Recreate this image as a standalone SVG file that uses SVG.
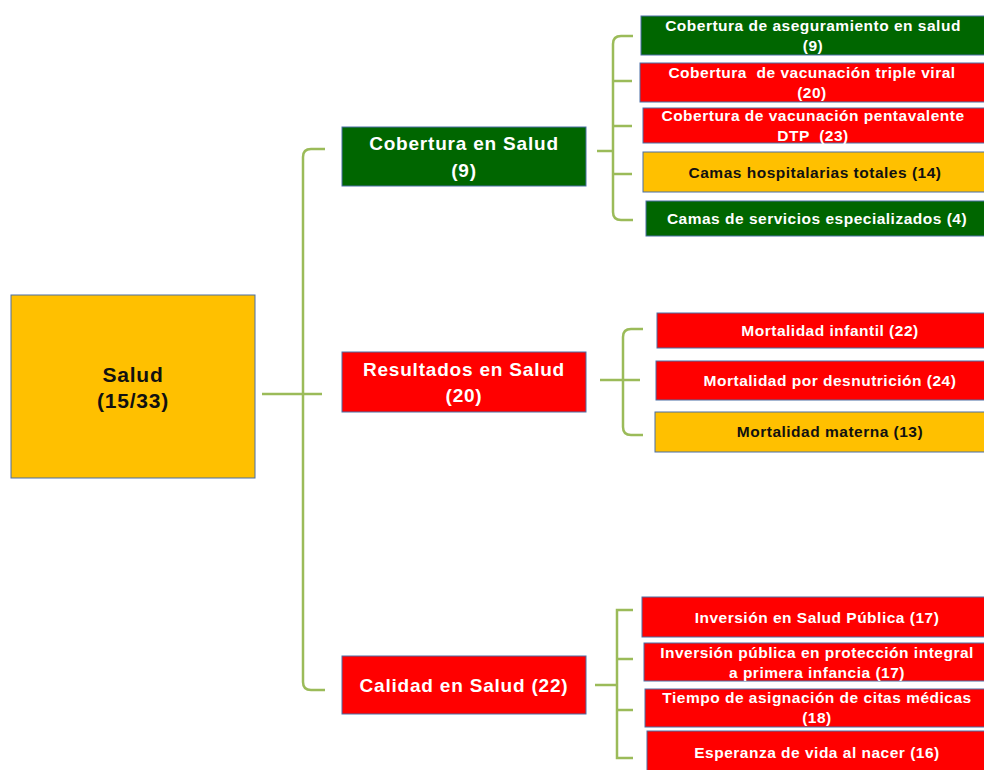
<svg xmlns="http://www.w3.org/2000/svg" width="984" height="770" viewBox="0 0 984 770">
<style>
.box{stroke:#4A6FA5;stroke-width:1}
.g{fill:#006600}.r{fill:#FF0000}.y{fill:#FFC000}
text{font-family:"Liberation Sans",Arial,sans-serif;font-weight:bold;text-anchor:middle;white-space:pre}
.w{fill:#FFFFFF}.k{fill:#111111}
.s{font-size:15.5px;letter-spacing:0.5px}
.m{font-size:19px;letter-spacing:0.8px}
.l{font-size:21px;letter-spacing:0.8px}
.c{fill:none;stroke:#9BBB59;stroke-width:2.5}
</style>
<rect width="984" height="770" fill="#FFFFFF"/>
<g id="connectors">
<path class="c" d="M262 394 H322" stroke="#77933C"/>
<path class="c" d="M325 149 H311 Q303 149 303 157 V682 Q303 690 311 690 H325"/>
<path class="c" d="M597 151 H613"/>
<path class="c" d="M633 36 H621 Q613 36 613 44 V212 Q613 220 621 220 H633 M613 81 H632 M613 126 H632 M613 174 H632"/>
<path class="c" d="M600 380 H640"/>
<path class="c" d="M643 329 H631 Q623 329 623 337 V427 Q623 435 631 435 H643"/>
<path class="c" d="M595 685 H617"/>
<path class="c" d="M633 610 H617 V758 H633 M617 659 H633 M617 710 H633"/>
</g>
<g id="salud"><rect class="box y" x="11" y="295" width="244" height="183"/><text class="l k" x="133" y="382">Salud</text><text class="l k" x="133" y="408">(15/33)</text></g>
<g id="cobertura"><rect class="box g" x="342" y="127" width="244" height="59"/><text class="m w" x="464" y="150">Cobertura en Salud</text><text class="m w" x="464" y="177">(9)</text></g>
<g id="resultados"><rect class="box r" x="342" y="352" width="244" height="60"/><text class="m w" x="464" y="376">Resultados en Salud</text><text class="m w" x="464" y="402">(20)</text></g>
<g id="calidad"><rect class="box r" x="342" y="656" width="244" height="58"/><text class="m w" x="464" y="692">Calidad en Salud (22)</text></g>
<g id="c1"><rect class="box g" x="641" y="16" width="350" height="39"/><text class="s w" x="813" y="31">Cobertura de aseguramiento en salud</text><text class="s w" x="813" y="51">(9)</text></g>
<g id="c2"><rect class="box r" x="640" y="63" width="350" height="39"/><text class="s w" x="812" y="78">Cobertura  de vacunación triple viral</text><text class="s w" x="812" y="98">(20)</text></g>
<g id="c3"><rect class="box r" x="643" y="108" width="350" height="35"/><text class="s w" x="813" y="121">Cobertura de vacunación pentavalente</text><text class="s w" x="813" y="141">DTP  (23)</text></g>
<g id="c4"><rect class="box y" x="643" y="152" width="350" height="40"/><text class="s k" x="815" y="178">Camas hospitalarias totales (14)</text></g>
<g id="c5"><rect class="box g" x="646" y="201" width="350" height="35"/><text class="s w" x="817" y="224">Camas de servicios especializados (4)</text></g>
<g id="r1"><rect class="box r" x="657" y="313" width="340" height="35"/><text class="s w" x="830" y="336">Mortalidad infantil (22)</text></g>
<g id="r2"><rect class="box r" x="656" y="361" width="340" height="39"/><text class="s w" x="830" y="386">Mortalidad por desnutrición (24)</text></g>
<g id="r3"><rect class="box y" x="655" y="412" width="340" height="40"/><text class="s k" x="830" y="437">Mortalidad materna (13)</text></g>
<g id="q1"><rect class="box r" x="642" y="597" width="350" height="40"/><text class="s w" x="817" y="623">Inversión en Salud Pública (17)</text></g>
<g id="q2"><rect class="box r" x="644" y="643" width="350" height="38"/><text class="s w" x="817" y="658">Inversión pública en protección integral</text><text class="s w" x="817" y="678">a primera infancia (17)</text></g>
<g id="q3"><rect class="box r" x="645" y="689" width="350" height="38"/><text class="s w" x="817" y="703">Tiempo de asignación de citas médicas</text><text class="s w" x="817" y="723">(18)</text></g>
<g id="q4"><rect class="box r" x="647" y="731" width="350" height="40"/><text class="s w" x="817" y="758">Esperanza de vida al nacer (16)</text></g>
</svg>
